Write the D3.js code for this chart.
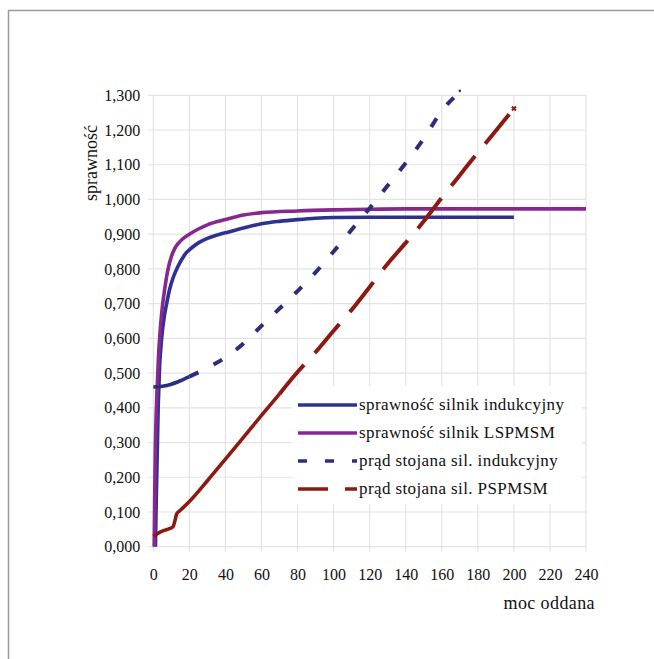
<!DOCTYPE html>
<html lang="pl">
<head>
    <meta charset="UTF-8">
    <title>sprawność</title>
    <script src="https://d3js.org/d3.v7.min.js"></script>
</head>

<style type="text/css">
    body {
        margin: 0;
        background-color: white;
    }
</style>
<body>
<div id="chart"></div>

<script>
    var W = 654, H = 659;
    var serifFont = "'Liberation Serif'";

    // tick values
    var xTicks = [0, 20, 40, 60, 80, 100, 120, 140, 160, 180, 200, 220, 240];
    var yTicks = [0, 0.1, 0.2, 0.3, 0.4, 0.5, 0.6, 0.7, 0.8, 0.9, 1.0, 1.1, 1.2, 1.3];

    // sprawność silnik indukcyjny
    var effIndX = [1.2, 1.5, 1.9, 2.3, 2.7, 3.1, 3.5, 4, 5, 6, 7.4, 9, 11, 13, 15, 18, 20, 25, 30, 35, 40, 50, 60, 70, 80, 90, 100, 120, 150, 200];
    var effIndY = [0, 0.1, 0.2, 0.3, 0.4, 0.46, 0.52, 0.56, 0.62, 0.66, 0.70, 0.74, 0.775, 0.80, 0.82, 0.845, 0.855, 0.875, 0.888, 0.897, 0.904, 0.918, 0.93, 0.937, 0.942, 0.946, 0.948, 0.949, 0.949, 0.949];

    // sprawność silnik LSPMSM
    var effLsX = [0.5, 0.7, 0.9, 1.2, 1.6, 2, 2.5, 3, 3.5, 4, 5, 6, 7, 8, 10, 12, 15, 20, 25, 30, 40, 50, 60, 80, 100, 120, 140, 200, 240];
    var effLsY = [0, 0.1, 0.2, 0.3, 0.38, 0.44, 0.5, 0.56, 0.6, 0.635, 0.69, 0.73, 0.765, 0.795, 0.835, 0.86, 0.88, 0.9, 0.915, 0.927, 0.942, 0.955, 0.962, 0.967, 0.97, 0.972, 0.973, 0.973, 0.973];

    // prąd stojana sil. indukcyjny
    var curIndX = [0, 5, 10, 15, 20, 25, 30, 40, 50, 60, 70, 80, 90, 100, 110, 120, 130, 140, 150, 160, 170];
    var curIndY = [0.46, 0.462, 0.468, 0.478, 0.49, 0.502, 0.515, 0.545, 0.585, 0.636, 0.686, 0.736, 0.79, 0.85, 0.913, 0.975, 1.04, 1.105, 1.175, 1.255, 1.31];

    // prąd stojana sil. PSPMSM
    var curPsX = [0, 3, 6, 9, 11, 12, 13, 15, 20, 30, 40, 50, 60, 70, 80, 90, 100, 110, 120, 130, 140, 150, 160, 170, 180, 190, 200];
    var curPsY = [0.03, 0.04, 0.047, 0.052, 0.058, 0.075, 0.095, 0.105, 0.13, 0.19, 0.252, 0.315, 0.378, 0.44, 0.503, 0.56, 0.622, 0.682, 0.748, 0.815, 0.875, 0.937, 1.005, 1.07, 1.135, 1.198, 1.262];

    var legendLabels = ["sprawność silnik indukcyjny", "sprawność silnik LSPMSM", "prąd stojana sil. indukcyjny", "prąd stojana sil. PSPMSM"];

    function zip(xs, ys) {
        return xs.map(function (d, i) { return {x: d, y: ys[i]}; });
    }

    var series = [
        {name: legendLabels[0], data: zip(effIndX, effIndY), color: "#2e3192", dash: null, solidUntil: null, legDash: null},
        {name: legendLabels[1], data: zip(effLsX, effLsY), color: "#86288f", dash: null, solidUntil: null, legDash: null},
        {name: legendLabels[2], data: zip(curIndX, curIndY), color: "#2b2e7c", dash: "10,17", solidUntil: 22, legDash: "9,18"},
        {name: legendLabels[3], data: zip(curPsX, curPsY), color: "#8b1b12", dash: "38,16", solidUntil: 74, legDash: "30,17"}
    ];

    var plot = {left: 153.3, right: 586, top: 95.3, bottom: 546.7};

    var svg = d3.select("#chart").append("svg").attr("width", W).attr("height", H);

    // outer frame
    svg.append("rect")
        .attr("x", 8.5).attr("y", 10.5)
        .attr("width", W + 20).attr("height", H + 20)
        .style("fill", "white")
        .style("stroke", "#9a9a9a")
        .style("stroke-width", 1.5);

    var x = d3.scaleLinear().domain([0, 240]).range([plot.left, plot.right]);
    var y = d3.scaleLinear().domain([0, 1.3]).range([plot.bottom, plot.top]);

    var pl = d3.formatLocale({decimal: ",", thousands: " ", grouping: [3], currency: ["", ""]});
    var fmtY = pl.format(".3f");

    // grid
    var grid = svg.append("g").style("stroke", "#e3e3e3").style("stroke-width", 1.2);
    grid.selectAll(".hg").data(yTicks).enter().append("line")
        .attr("x1", plot.left - 5).attr("x2", plot.right)
        .attr("y1", function (d) { return y(d); })
        .attr("y2", function (d) { return y(d); });
    grid.selectAll(".vg").data(xTicks).enter().append("line")
        .attr("y1", plot.top).attr("y2", plot.bottom + 5)
        .attr("x1", function (d) { return x(d); })
        .attr("x2", function (d) { return x(d); });

    // axes (labels only)
    var yAxis = svg.append("g")
        .attr("transform", "translate(" + plot.left + ",0)")
        .call(d3.axisLeft(y).tickValues(yTicks).tickFormat(fmtY).tickSize(0).tickPadding(13));
    var xAxis = svg.append("g")
        .attr("transform", "translate(0," + plot.bottom + ")")
        .call(d3.axisBottom(x).tickValues(xTicks).tickFormat(d3.format("d")).tickSize(0).tickPadding(22));
    [yAxis, xAxis].forEach(function (a) {
        a.attr("font-family", serifFont).attr("font-size", 16);
        a.select(".domain").remove();
        a.selectAll("text")
            .style("font-family", serifFont)
            .style("font-size", "16px")
            .style("fill", "#111");
    });

    // lines
    var line = d3.line()
        .x(function (d) { return x(d.x); })
        .y(function (d) { return y(d.y); })
        .curve(d3.curveMonotoneX);

    var lines = svg.append("g");
    series.forEach(function (s) {
        if (s.dash == null) {
            lines.append("path").attr("d", line(s.data))
                .style("fill", "none").style("stroke", s.color).style("stroke-width", 3.6);
        } else {
            var first = s.data.filter(function (d) { return d.x <= s.solidUntil; });
            var rest = s.data.filter(function (d) { return d.x >= first[first.length - 1].x; });
            lines.append("path").attr("d", line(first))
                .style("fill", "none").style("stroke", s.color).style("stroke-width", 3.6);
            lines.append("path").attr("d", line(rest))
                .style("fill", "none").style("stroke", s.color).style("stroke-width", 4)
                .style("stroke-dasharray", s.dash);
        }
    });

    // end markers
    var redEnd = series[3].data[series[3].data.length - 1];
    lines.append("path")
        .attr("d", d3.symbol().type(d3.symbolCross).size(18)())
        .attr("transform", "translate(" + x(redEnd.x) + "," + y(redEnd.y) + ") rotate(45)")
        .style("fill", series[3].color);
    var blueEnd = series[2].data[series[2].data.length - 1];
    lines.append("circle")
        .attr("cx", x(blueEnd.x)).attr("cy", y(blueEnd.y) - 1).attr("r", 1.3)
        .style("fill", series[2].color);

    // legend
    var leg = svg.append("g");
    leg.append("rect")
        .attr("x", 292).attr("y", 386).attr("width", 290).attr("height", 118)
        .style("fill", "white");
    var rowY = d3.scaleLinear().domain([0, 3]).range([405, 489]);
    series.forEach(function (s, i) {
        leg.append("line")
            .attr("x1", 298).attr("x2", 357)
            .attr("y1", rowY(i)).attr("y2", rowY(i))
            .style("stroke", s.color).style("stroke-width", 3.6)
            .style("stroke-dasharray", s.legDash);
        leg.append("text")
            .attr("x", 359).attr("y", rowY(i) + 5)
            .style("font-family", serifFont)
            .style("font-size", "17px")
            .style("letter-spacing", "0.4px")
            .style("fill", "#111")
            .text(s.name);
    });

    // axis titles
    svg.append("text")
        .attr("transform", "translate(97,163) rotate(-90)")
        .style("text-anchor", "middle")
        .style("font-family", serifFont)
        .style("font-size", "18px")
        .style("fill", "#111")
        .text("sprawność");
    svg.append("text")
        .attr("x", 595).attr("y", 609)
        .style("text-anchor", "end")
        .style("font-family", serifFont)
        .style("font-size", "18px")
        .style("letter-spacing", "0.4px")
        .style("fill", "#111")
        .text("moc oddana");
</script>

</body>
</html>
